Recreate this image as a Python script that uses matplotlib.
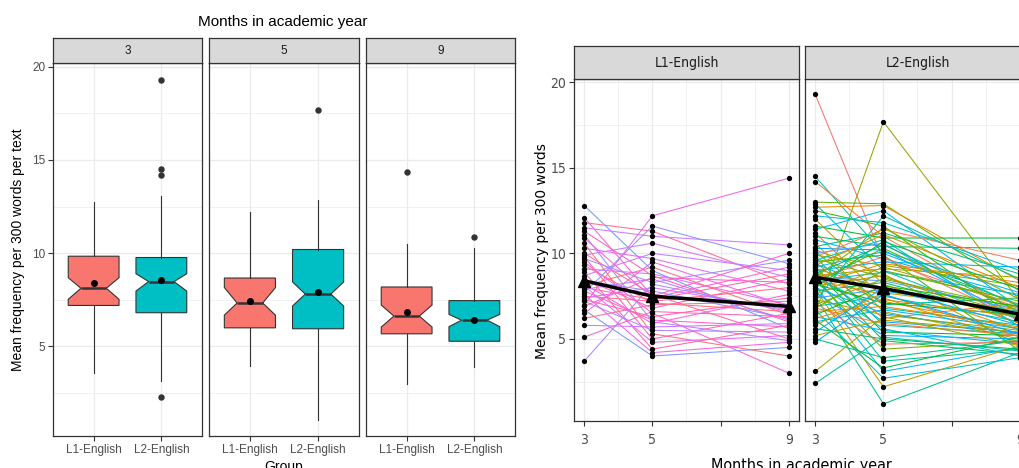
import numpy as np
import matplotlib
matplotlib.use('Agg')
import matplotlib.pyplot as plt
from matplotlib import font_manager

plt.rcParams['font.family'] = ['Liberation Sans', 'DejaVu Sans']

W, H = 1020, 468

### Left chart: notched box plot summaries, per month [L1, L2]
months = ['3', '5', '9']
groups = ['L1-English', 'L2-English']
box_colors = ['#F8766D', '#00BFC4']

box_q1 = [[7.20, 6.81], [6.00, 5.95], [5.68, 5.28]]
box_med = [[8.12, 8.48], [7.33, 7.81], [6.63, 6.41]]
box_q3 = [[9.84, 9.77], [8.67, 10.20], [8.19, 7.46]]
box_lo = [[3.60, 3.14], [3.98, 1.04], [2.97, 3.90]]
box_hi = [[12.76, 13.05], [12.19, 12.88], [10.52, 10.30]]
box_mean = [[8.40, 8.57], [7.42, 7.90], [6.87, 6.43]]
notch_lo = [[7.53, 7.97], [6.68, 7.17], [6.04, 6.06]]
notch_hi = [[8.69, 8.90], [8.16, 8.46], [7.22, 6.72]]
fliers = [[[], [19.3, 14.52, 14.18, 2.3]], [[], [17.7]], [[14.37], [10.88]]]

### Right chart: individual trajectories (month 3, 5, 9)
time_points = [3, 5, 9]
l1_m3 = [12.8, 7.0, 11.8, 11.5, 11.3, 11.1, 10.9, 10.6, 10.3, 10.0, 9.9, 9.8, 9.7, 9.5,
         9.3, 9.1, 8.9, 8.7, 8.5, 8.4, 8.2, 8.1, 8.1, 8.0, 7.9, 7.8, 7.7, 7.6, 7.5, 7.4,
         7.3, 7.2, 6.9, 6.7, 6.5, 6.2, 5.8, 5.1, 3.7, 12.1]
l1_m5 = [9.0, 12.2, 11.3, 11.0, 8.7, 6.0, 7.4, 5.3, 9.7, 7.6, 10.6, 5.0, 8.3, 6.5,
         7.1, 8.8, 4.4, 10.0, 6.8, 7.8, 5.9, 9.2, 4.8, 7.3, 8.5, 6.1, 11.6, 4.2, 7.2, 8.0,
         6.3, 5.5, 8.6, 4.0, 9.5, 7.0, 5.7, 6.6, 8.2, 7.5]
l1_m9 = [5.6, 14.4, 8.2, 10.5, 6.0, 4.9, 9.2, 4.0, 7.8, 5.0, 8.6, 6.5, 9.6, 3.0,
         6.6, 7.0, 5.8, 9.0, 8.5, 6.2, 7.6, 6.4, 5.2, 8.8, 6.1, 5.7, 9.4, 4.8, 8.0, 6.7,
         7.4, 5.4, 8.3, 4.5, 6.9, 7.2, 5.9, 6.3, 6.6, 10.0]

l2_m3 = [19.3, 6.5, 14.5, 14.2, 13.0, 12.9, 12.7, 12.5, 12.2, 12.0, 11.6, 11.4, 11.2, 11.0,
         10.8, 10.6, 10.4, 10.3, 10.2, 10.1, 10.0, 9.9, 9.8, 9.8, 9.7, 9.6, 9.5, 9.5, 9.4,
         9.3, 9.2, 9.2, 9.1, 9.0, 9.0, 8.9, 8.8, 8.8, 8.7, 8.7, 8.6, 8.6, 8.5, 8.5, 8.5,
         8.4, 8.4, 8.3, 8.3, 8.2, 8.2, 8.1, 8.1, 8.0, 8.0, 7.9, 7.8, 7.7, 7.6, 7.5, 7.4,
         7.3, 7.2, 7.1, 7.0, 6.9, 6.8, 6.8, 6.7, 6.6, 6.4, 6.3, 6.2, 6.1, 6.0, 5.8, 5.6,
         5.4, 5.2, 5.0, 4.8, 3.1, 2.4]
l2_m5 = [9.6, 17.7, 10.0, 11.0, 12.9, 9.0, 12.8, 11.6, 11.8, 8.2, 10.9, 12.5, 7.4, 10.4,
         9.7, 6.6, 11.2, 10.2, 8.8, 7.0, 10.6, 9.3, 5.8, 11.4, 8.6, 10.8, 6.2, 9.9, 7.8,
         11.1, 5.4, 10.1, 8.0, 4.9, 9.5, 7.2, 10.5, 6.0, 9.1, 3.7, 8.4, 11.5, 6.8, 9.8, 4.4,
         8.9, 7.6, 10.3, 5.6, 9.4, 7.1, 3.1, 8.7, 10.7, 6.5, 2.2, 8.3, 5.2, 9.2, 1.2, 7.9,
         6.4, 12.2, 4.7, 8.5, 7.5, 5.9, 9.0, 2.7, 6.9, 8.1, 5.5, 7.3, 3.3, 6.7, 7.7, 5.0,
         8.0, 6.1, 3.9, 7.6, 6.3, 5.1]
l2_m9 = [6.8, 7.2, 7.0, 6.5, 7.8, 5.9, 8.4, 6.1, 9.0, 5.5, 10.9, 6.8, 4.8, 10.3,
         7.5, 5.0, 8.8, 6.2, 4.6, 7.4, 6.0, 8.1, 5.3, 9.6, 6.4, 5.7, 7.1, 4.3, 6.6,
         8.0, 5.2, 7.7, 6.3, 4.1, 9.2, 5.6, 6.9, 5.4, 8.6, 4.4, 6.7, 7.3, 5.8, 6.1, 4.9,
         7.6, 5.1, 6.6, 4.0, 8.3, 6.4, 4.5, 5.9, 7.9, 5.3, 4.6, 6.2, 5.0, 7.0, 4.2, 6.5,
         5.5, 8.5, 4.8, 6.8, 6.0, 5.2, 7.2, 3.9, 5.7, 6.9, 4.7, 6.3, 5.1, 5.6, 6.7, 4.4,
         5.8, 5.4, 4.9, 5.3, 4.6, 4.3]

trend_mean = [[8.40, 7.50, 6.90], [8.60, 7.95, 6.45]]


def hue_pal(n, h0=15, h1=375, c=100, l=65):
    # ggplot2 style hcl hue palette
    hs = np.deg2rad(np.linspace(h0, h1, n + 1)[:-1])
    Y = ((l + 16) / 116) ** 3
    un, vn = 0.19784, 0.46834
    up = c * np.cos(hs) / (13 * l) + un
    vp = c * np.sin(hs) / (13 * l) + vn
    X = Y * 9 * up / (4 * vp)
    Z = Y * (12 - 3 * up - 20 * vp) / (4 * vp)
    M = np.array([[3.2406, -1.5372, -0.4986],
                  [-0.9689, 1.8758, 0.0415],
                  [0.0557, -0.2040, 1.0570]])
    rgb = M @ np.vstack([X, np.full_like(X, Y), Z])
    rgb = np.where(rgb > 0.0031308, 1.055 * np.clip(rgb, 0, None) ** (1 / 2.4) - 0.055, 12.92 * rgb)
    return np.clip(rgb.T, 0, 1)


# a narrow face for the squeezed right chart, if one is installed
narrow_fp = None
for f in font_manager.fontManager.ttflist:
    nm = (f.name + ' ' + f.fname).lower()
    if ('narrow' in nm or 'condensed' in nm or f.stretch in ('condensed', 'semi-condensed')) \
            and f.weight in (400, 'normal', 'regular') and f.style == 'normal':
        if narrow_fp is None or 'liberation' in nm:
            narrow_fp = f.fname
if narrow_fp is None:
    narrow_fp = font_manager.findfont('Liberation Sans')


def nfont(size):
    return font_manager.FontProperties(fname=narrow_fp, size=size)


fig = plt.figure(figsize=(W / 100, H / 100), dpi=100)


def px_axes(x0, y0, x1, y1):
    return fig.add_axes([x0 / W, 1 - y1 / H, (x1 - x0) / W, (y1 - y0) / H])


def style_panel(ax):
    for s in ax.spines.values():
        s.set_color('#333333')
        s.set_linewidth(0.9)
    ax.set_ylim(0.2, 20.2)
    ax.set_yticks([5, 10, 15, 20])
    ax.set_yticks([2.5, 7.5, 12.5, 17.5], minor=True)
    ax.grid(which='major', color='#EBEBEB', lw=0.9)
    ax.grid(which='minor', color='#EBEBEB', lw=0.5)
    ax.set_axisbelow(True)
    ax.tick_params(which='minor', length=0)
    ax.tick_params(which='major', color='#333333', length=3.5, width=0.8,
                   labelcolor='#4D4D4D', pad=2)


def strip(x0, x1, y0, y1, label, fp):
    sax = px_axes(x0, y0, x1, y1)
    sax.set_facecolor('#D9D9D9')
    sax.set_xticks([])
    sax.set_yticks([])
    for s in sax.spines.values():
        s.set_color('#333333')
        s.set_linewidth(0.9)
    sax.text(0.5, 0.5, label, ha='center', va='center', color='#1A1A1A',
             fontproperties=fp, transform=sax.transAxes)


### Left chart
left_x = [(53, 202), (209, 359), (366, 515)]
for i, m in enumerate(months):
    x0, x1 = left_x[i]
    ax = px_axes(x0, 63, x1, 436)
    stats = []
    for g in range(2):
        stats.append(dict(q1=box_q1[i][g], med=box_med[i][g], q3=box_q3[i][g],
                          whislo=box_lo[i][g], whishi=box_hi[i][g], mean=box_mean[i][g],
                          cilo=notch_lo[i][g], cihi=notch_hi[i][g], fliers=fliers[i][g]))
    bp = ax.bxp(stats, positions=[1, 2], widths=0.75, shownotches=True, showmeans=True,
                showcaps=False, patch_artist=True,
                boxprops=dict(edgecolor='#333333', lw=0.8),
                whiskerprops=dict(color='#333333', lw=0.8),
                medianprops=dict(color='#333333', lw=1.8),
                meanprops=dict(marker='o', mfc='black', mec='black', ms=4),
                flierprops=dict(marker='o', mfc='#333333', mec='#333333', ms=3.6))
    for patch, c in zip(bp['boxes'], box_colors):
        patch.set_facecolor(c)
    style_panel(ax)
    ax.set_xlim(0.4, 2.6)
    ax.set_xticks([1, 2], groups, fontsize=8.5)
    ax.tick_params(axis='y', labelsize=8.5)
    if i > 0:
        ax.tick_params(axis='y', length=0, labelleft=False)
    strip(x0, x1, 38, 63, m, font_manager.FontProperties(family='Liberation Sans', size=8.5))

fig.text(283 / W, 1 - 22 / H, 'Months in academic year', ha='center', va='center', fontsize=11)
fig.text(18 / W, 1 - 250 / H, 'Mean frequency per 300 words per text', rotation=90,
         ha='center', va='center', fontsize=10)
fig.text(284 / W, 1 - 460 / H, 'Group', ha='center', va='top', fontsize=10)

### Right chart
right_x = [(574, 799), (805, 1030)]
traj = [(l1_m3, l1_m5, l1_m9), (l2_m3, l2_m5, l2_m9)]
n1, n2 = len(l1_m3), len(l2_m3)
pal = hue_pal(n1 + n2)
pal_groups = [pal[n2:], pal[:n2]]
steps = [17, 29]
for g in range(2):
    x0, x1 = right_x[g]
    ax = px_axes(x0, 79, x1, 421)
    m3, m5, m9 = traj[g]
    n = len(m3)
    cols = pal_groups[g]
    for k in range(n):
        ax.plot(time_points, [m3[k], m5[k], m9[k]], color=cols[(k * steps[g]) % n], lw=0.75)
    for t, vals in zip(time_points, (m3, m5, m9)):
        ax.plot([t] * len(vals), vals, 'o', color='black', ms=3.8, mew=0)
    ax.plot(time_points, trend_mean[g], color='black', lw=2.5, marker='^', ms=9)
    style_panel(ax)
    ax.set_xlim(2.7, 9.3)
    ax.set_xticks([3, 5, 7, 9], ['3', '5', '', '9'])
    ax.set_xticks([4, 6, 8], minor=True)
    for lab in ax.get_xticklabels() + ax.get_yticklabels():
        lab.set_fontproperties(nfont(10))
    ax.tick_params(axis='x', pad=5)
    if g > 0:
        ax.tick_params(axis='y', length=0, labelleft=False)
    strip(x0, x1, 46, 79, groups[g], nfont(10))

fig.text(542 / W, 1 - 251 / H, 'Mean frequency per 300 words', rotation=90,
         ha='center', va='center', fontsize=10, family='DejaVu Sans')
fig.text(801 / W, 1 - 458 / H, 'Months in academic year', ha='center', va='top',
         fontproperties=nfont(11.5))

fig.savefig('out.png', dpi=100)
